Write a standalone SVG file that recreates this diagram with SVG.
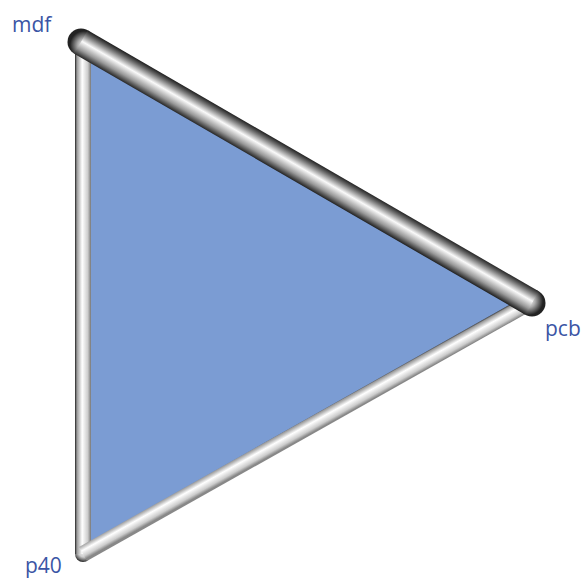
<svg xmlns="http://www.w3.org/2000/svg" width="584" height="579" viewBox="0 0 584 579">
<style>
.lbl{font-family:"Open Sans","Liberation Sans",sans-serif;font-size:21px;fill:#3b55a5}
</style>
<defs>
<linearGradient id="gLeft" gradientUnits="userSpaceOnUse" x1="75" y1="0" x2="91" y2="0">
<stop offset="0" stop-color="#222"/>
<stop offset="0.12" stop-color="#999"/>
<stop offset="0.45" stop-color="#fff"/>
<stop offset="0.8" stop-color="#ccc"/>
<stop offset="1" stop-color="#777"/>
</linearGradient>
<linearGradient id="gLow" gradientUnits="userSpaceOnUse" x1="300.1" y1="421.0" x2="307.9" y2="435.0">
<stop offset="0" stop-color="#222"/>
<stop offset="0.12" stop-color="#999"/>
<stop offset="0.45" stop-color="#fff"/>
<stop offset="0.8" stop-color="#ccc"/>
<stop offset="1" stop-color="#888"/>
</linearGradient>
<linearGradient id="gTop" gradientUnits="userSpaceOnUse" x1="313.25" y1="160.8" x2="299.75" y2="184.2">
<stop offset="0" stop-color="#222"/>
<stop offset="0.15" stop-color="#666"/>
<stop offset="0.45" stop-color="#fafafa"/>
<stop offset="0.75" stop-color="#999"/>
<stop offset="1" stop-color="#222"/>
</linearGradient>
<radialGradient id="gCorner" gradientUnits="userSpaceOnUse" cx="84" cy="551" r="11">
<stop offset="0" stop-color="#fff"/>
<stop offset="0.55" stop-color="#ccc"/>
<stop offset="0.85" stop-color="#666"/>
<stop offset="1" stop-color="#222"/>
</radialGradient>
<radialGradient id="gCapA" gradientUnits="userSpaceOnUse" cx="84" cy="45" r="14">
<stop offset="0" stop-color="#fff"/>
<stop offset="0.45" stop-color="#aaa"/>
<stop offset="1" stop-color="#222"/>
</radialGradient>
<radialGradient id="gCapB" gradientUnits="userSpaceOnUse" cx="529" cy="301" r="14">
<stop offset="0" stop-color="#fff"/>
<stop offset="0.45" stop-color="#aaa"/>
<stop offset="1" stop-color="#222"/>
</radialGradient>
</defs>
<g id="face">
<polygon points="83,44 530,302 83,554" fill="#7b9cd3"/>
</g>
<g id="connectors">
<circle cx="83" cy="554" r="8" fill="url(#gCorner)"/>
<line x1="83" y1="50" x2="83" y2="554" stroke="url(#gLeft)" stroke-width="16"/>
<line x1="83" y1="554" x2="527" y2="304" stroke="url(#gLow)" stroke-width="16"/>
<circle cx="81" cy="42" r="13.5" fill="url(#gCapA)"/>
<circle cx="532" cy="303" r="13.5" fill="url(#gCapB)"/>
<line x1="81" y1="42" x2="532" y2="303" stroke="url(#gTop)" stroke-width="27"/>
</g>
<g id="mdf"><text class="lbl" x="12" y="32">mdf</text></g>
<g id="pcb"><text class="lbl" x="545" y="336">pcb</text></g>
<g id="p40"><text class="lbl" x="25" y="573">p40</text></g>
</svg>
